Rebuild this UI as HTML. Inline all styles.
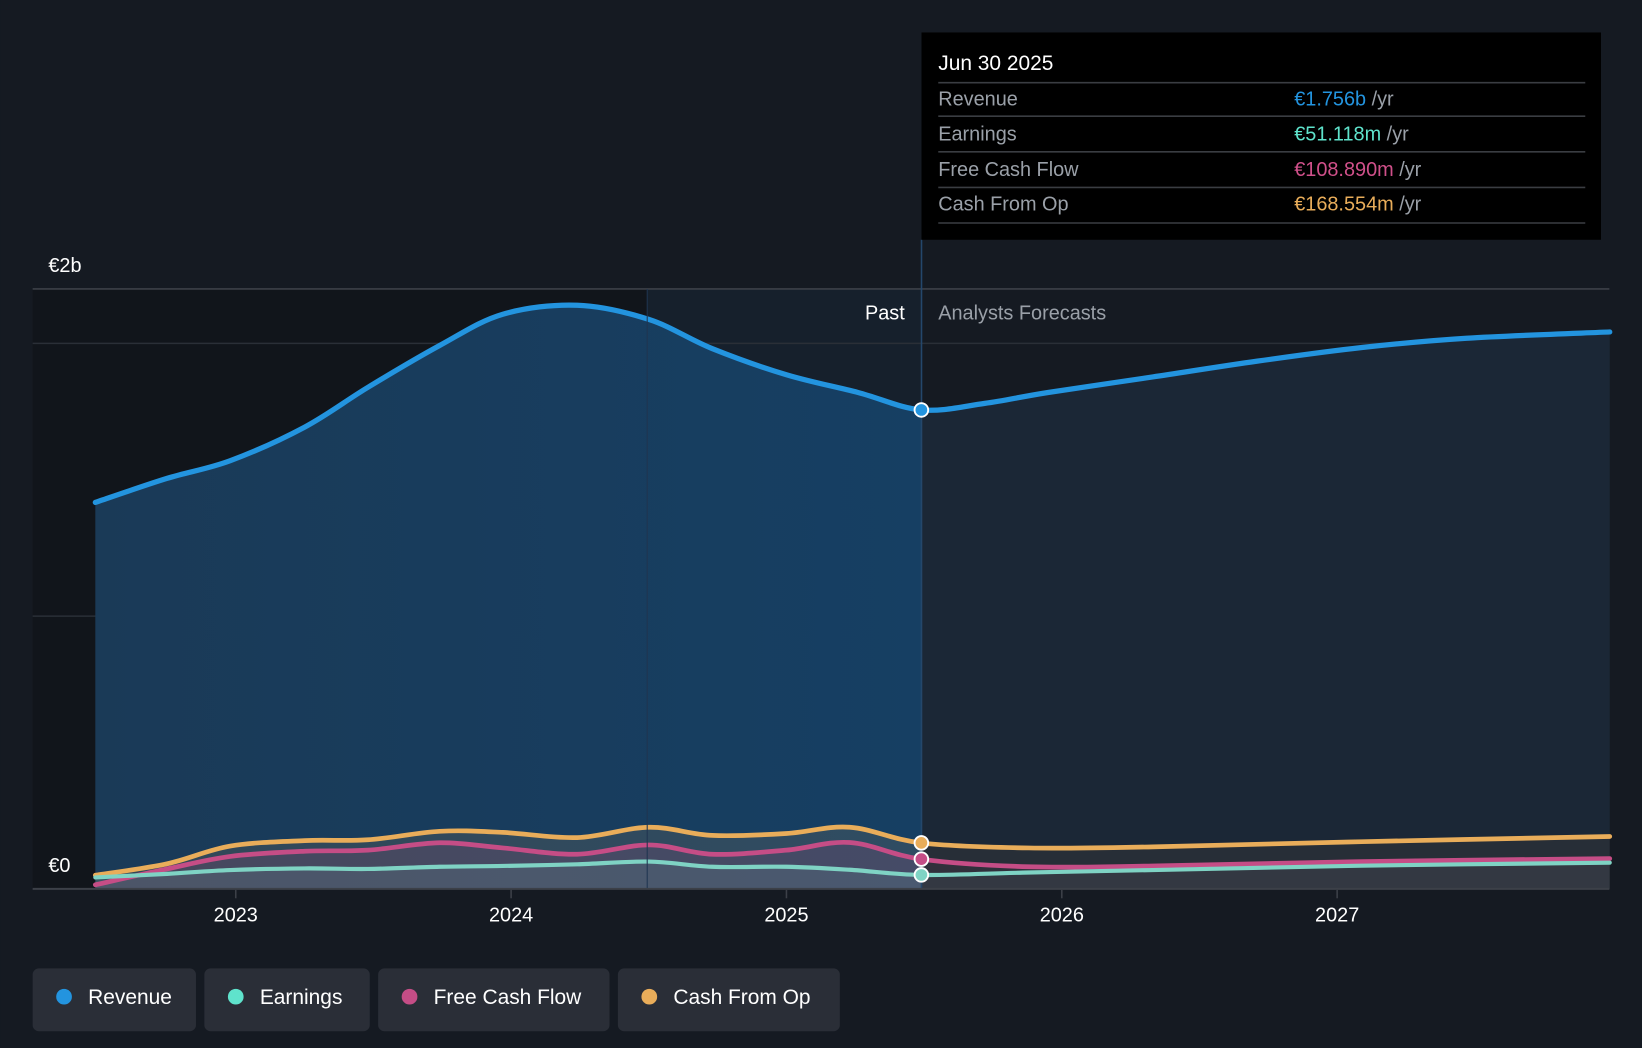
<!DOCTYPE html>
<html><head><meta charset="utf-8"><style>
html,body{margin:0;padding:0;background:#151a22;}
svg{display:block;font-family:"Liberation Sans",sans-serif;}
</style></head><body>
<svg id="chart" width="1642" height="1048" viewBox="0 0 1568 1001" xmlns="http://www.w3.org/2000/svg">
<defs>
<linearGradient id="pastRev" x1="0" y1="0" x2="1" y2="0"><stop offset="0" stop-color="#1a3a57"/><stop offset="1" stop-color="#163f63"/></linearGradient>
</defs>
<rect x="0" y="0" width="1568" height="1001" fill="#151a22"/>
<rect x="31" y="276" width="587" height="573" fill="#11151b"/>
<rect x="618" y="276" width="262" height="573" fill="#16202c"/>
<g id="grid"></g>
<g id="areas"></g>
<g id="lines"></g>
<line x1="618" y1="276" x2="618" y2="849" stroke="#1f3550" stroke-width="1"/>
<line x1="880" y1="229" x2="880" y2="849" stroke="#24476b" stroke-width="1.5"/>
<text x="864" y="305" fill="#ffffff" font-size="19" text-anchor="end">Past</text>
<text x="896" y="305" fill="#9aa0a8" font-size="19">Analysts Forecasts</text>
<text x="46" y="260" fill="#ffffff" font-size="19">€2b</text>
<text x="46" y="833" fill="#ffffff" font-size="19">€0</text>
<g id="xaxis"></g>
<g id="dots"></g>
<g>
<rect x="880" y="31" width="649" height="198" fill="#000000"/>
<text x="896" y="67" fill="#ffffff" font-size="20">Jun 30 2025</text>
<g stroke="#3a3d42" stroke-width="1.5">
<line x1="896" y1="79" x2="1514" y2="79"/><line x1="896" y1="111" x2="1514" y2="111"/>
<line x1="896" y1="145" x2="1514" y2="145"/><line x1="896" y1="179" x2="1514" y2="179"/>
<line x1="896" y1="213" x2="1514" y2="213"/></g>
<g font-size="19" fill="#9aa0a8">
<text x="896" y="101">Revenue</text><text x="896" y="134">Earnings</text>
<text x="896" y="168">Free Cash Flow</text><text x="896" y="201">Cash From Op</text></g>
<g font-size="19">
<text x="1236" y="101"><tspan fill="#2394df">€1.756b</tspan><tspan fill="#9aa0a8"> /yr</tspan></text>
<text x="1236" y="134"><tspan fill="#5fe3cc">€51.118m</tspan><tspan fill="#9aa0a8"> /yr</tspan></text>
<text x="1236" y="168"><tspan fill="#d0508a">€108.890m</tspan><tspan fill="#9aa0a8"> /yr</tspan></text>
<text x="1236" y="201"><tspan fill="#e9ad5a">€168.554m</tspan><tspan fill="#9aa0a8"> /yr</tspan></text></g>
</g>
<g id="legend"></g>
</svg>
<script>
const revYears=[2022.49,2022.75,2022.98,2023.25,2023.48,2023.74,2023.97,2024.24,2024.5,2024.73,2025.0,2025.26,2025.49,2025.72,2025.95,2026.33,2026.71,2027.09,2027.47,2027.99];
const revenue=[1417,1505,1570,1693,1839,1992,2107,2140,2088,1981,1885,1820,1756,1780,1820,1877,1935,1985,2019,2042];
const subYears=[2022.49,2022.75,2022.98,2023.25,2023.48,2023.74,2023.97,2024.24,2024.5,2024.73,2025.0,2025.23,2025.49,2025.88,2026.33,2027.09,2027.99];
const cashFromOp=[50,92,157,177,180,211,207,188,226,196,203,226,168.5,150,154,173,192];
const freeCashFlow=[15,73,119,138,142,169,150,127,161,127,142,170,108.9,81,84,100,111];
const earnings=[42,55,69,75,73,81,84,90,100,81,81,70,51.1,60,69,85,96];
const xTicks=[2023,2024,2025,2026,2027];
const NOW=2025.49;
const NS="http://www.w3.org/2000/svg";
const X=y=>225+(y-2023)*263;
const Y=v=>849-v*0.2605;
function el(t,a,p){const e=document.createElementNS(NS,t);for(const k in a)e.setAttribute(k,a[k]);p.appendChild(e);return e;}
function curve(pts){let d="M"+pts[0][0]+","+pts[0][1];for(let i=0;i<pts.length-1;i++){const p0=pts[i-1]||pts[i],p1=pts[i],p2=pts[i+1],p3=pts[i+2]||p2;
const c1=[p1[0]+(p2[0]-p0[0])/6,p1[1]+(p2[1]-p0[1])/6],c2=[p2[0]-(p3[0]-p1[0])/6,p2[1]-(p3[1]-p1[1])/6];
d+=" C"+c1+" "+c2+" "+p2;}return d;}
const grid=document.getElementById('grid');
[[276,"#3c4048"],[Y(2000),"#2a2f37"],[Y(1000),"#2a2f37"]].forEach((g,i)=>{const l=el('line',{x1:31,x2:1537,y1:g[0],y2:g[0],stroke:g[1],'stroke-width':1.5},grid);

});
const areas=document.getElementById('areas'),lines=document.getElementById('lines');
const series=[
 {name:'revenue',yrs:revYears,vals:revenue,color:'#2394df',w:5,pastFill:'url(#pastRev)',futFill:'#1b2736'},
 {name:'cash-from-op',yrs:subYears,vals:cashFromOp,color:'#e9ad5a',w:4.5,pastFill:'rgba(233,173,90,0.12)',futFill:'rgba(233,173,90,0.06)'},
 {name:'free-cash-flow',yrs:subYears,vals:freeCashFlow,color:'#c54d86',w:4.5,pastFill:'rgba(197,77,134,0.15)',futFill:'rgba(197,77,134,0.06)'},
 {name:'earnings',yrs:subYears,vals:earnings,color:'#7fd3c4',w:4,pastFill:'rgba(127,211,196,0.1)',futFill:'rgba(127,211,196,0.05)'}];
series.forEach(s=>{
 const pts=s.yrs.map((y,i)=>[X(y),Y(s.vals[i])]);
 const k=s.yrs.indexOf(NOW);
 const past=pts.slice(0,k+1),fut=pts.slice(k);
 const dp=curve(past),df=curve(fut);
 const a1=el('path',{d:dp+" L"+past[past.length-1][0]+",849 L"+past[0][0]+",849Z",fill:s.pastFill},areas);
 
 
 const a2=el('path',{d:df+" L"+fut[fut.length-1][0]+",849 L"+fut[0][0]+",849Z",fill:s.futFill},areas);
 
 
 const l=el('path',{d:curve(pts),fill:'none',stroke:s.color,'stroke-width':s.w,'stroke-linecap':'round'},lines);
 
 
 const c=el('circle',{cx:X(NOW),cy:Y(s.vals[k]),r:6.5,fill:s.color,stroke:'#fff','stroke-width':1.8},document.getElementById('dots'));
 
 
});
const xa=document.getElementById('xaxis');
const ax=el('line',{x1:31,x2:1537,y1:849,y2:849,stroke:'#3c4048','stroke-width':2},xa);


xTicks.forEach(t=>{const tk=el('line',{x1:X(t),x2:X(t),y1:850,y2:858,stroke:'#3c4048','stroke-width':1.5},xa);


const tx=el('text',{x:X(t),y:880,fill:'#fff','font-size':19,'text-anchor':'middle'},xa);tx.textContent=t;

});
const legendItems=[['Revenue','#2394df',31,156],['Earnings','#5fe3cc',195,158],['Free Cash Flow','#c54d86',361,221],['Cash From Op','#e9ad5a',590,212]];
const lg=document.getElementById('legend');
legendItems.forEach(it=>{const g=el('g',{},lg);


el('rect',{x:it[2],y:925,width:it[3],height:60,rx:6,fill:'#2a2e37'},g);
el('circle',{cx:it[2]+30,cy:952,r:7.5,fill:it[1]},g);
const t=el('text',{x:it[2]+53,y:959,fill:'#fff','font-size':20},g);t.textContent=it[0];});
</script>
</body></html>
